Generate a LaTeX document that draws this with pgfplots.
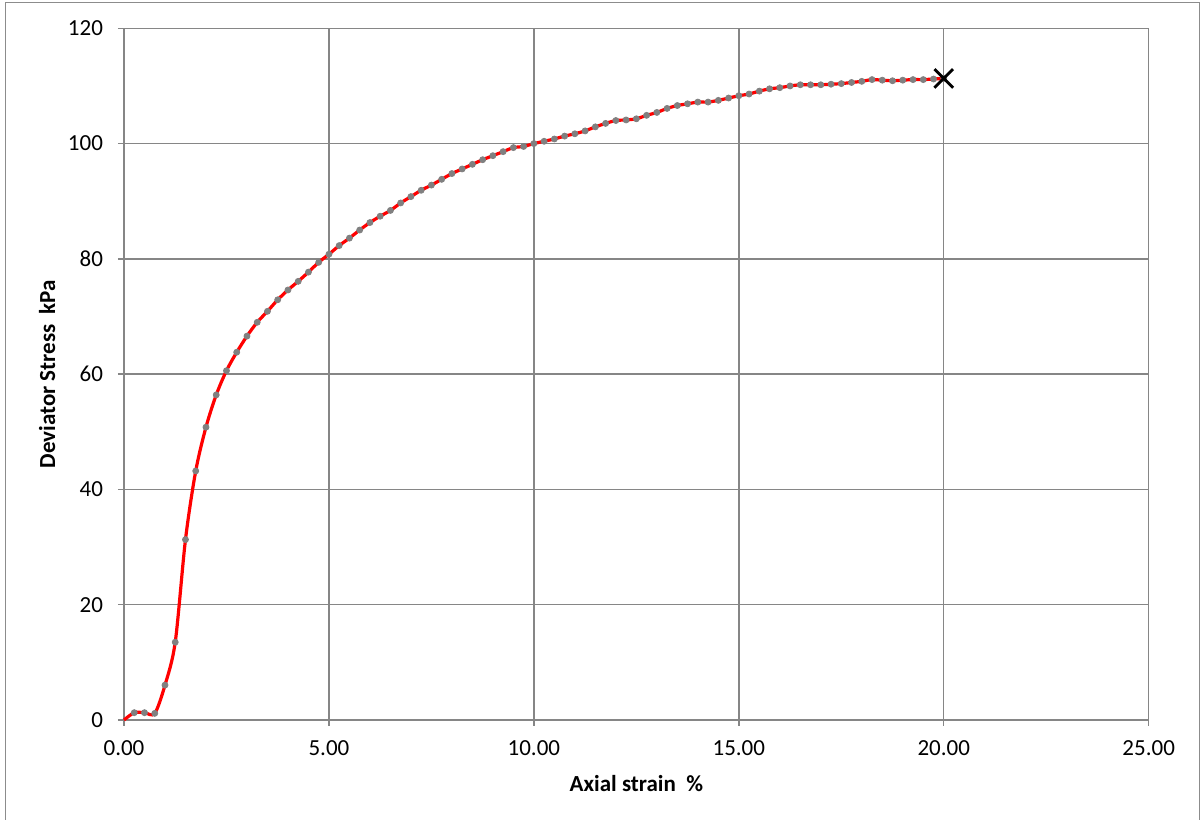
\documentclass[border=0pt]{standalone}
\usepackage{pgfplots}
\pgfplotsset{compat=1.18}
\usepackage{fontspec}
\setmainfont{Carlito}
\definecolor{gridgray}{HTML}{868686}
\definecolor{markgray}{HTML}{808080}
\definecolor{framegray}{HTML}{8C8C8C}
\begin{document}
\begin{tikzpicture}
\useasboundingbox (-62pt,-50pt) rectangle (538.5pt,360pt);
\draw[framegray, line width=0.8pt] (-59.25pt,-51pt) -- (-59.25pt,358.75pt) -- (537.65pt,358.75pt) -- (537.65pt,-51pt);
\begin{axis}[
  at={(0pt,0pt)}, anchor=south west,
  scale only axis, width=512.35pt, height=345.85pt,
  xmin=0, xmax=25, ymin=0, ymax=120,
  xtick={0,5,10,15,20,25}, ytick={0,20,40,60,80,100,120},
  xtick pos=bottom, ytick pos=left,
  tick align=outside, major tick length=3pt,
  every tick/.style={gridgray, line width=0.7pt},
  axis line style={gridgray, line width=0.7pt},
  grid=major, major grid style={gridgray, line width=0.7pt},
  /pgf/number format/assume math mode=true,
  tick label style={font=\fontsize{11.5}{13.5}\selectfont, black},
  xticklabel style={yshift=-4pt},
  yticklabel style={xshift=-4pt},
  xticklabel={\pgfmathprintnumber[fixed, fixed zerofill, precision=2]{\tick}},
  yticklabel={\pgfmathprintnumber[fixed, precision=0]{\tick}},
  scaled ticks=false,
  xlabel={\textbf{Axial strain\ \ \%}}, ylabel={\textbf{Deviator Stress\ \ kPa}},
  every axis x label/.style={at={(axis description cs:0.5,-0.0925)}, anchor=center, font=\fontsize{11.5}{13.5}\selectfont\bfseries},
  every axis y label/.style={at={(axis description cs:-0.0751,0.5)}, anchor=center, rotate=90, font=\fontsize{11.5}{13.5}\selectfont\bfseries},
  clip=false,
]
\pgfplotstableread{
x y
0 0
0.25 1.27
0.5 1.27
0.75 1.15
1.0 6.05
1.25 13.5
1.5 31.3
1.75 43.2
2.0 50.8
2.25 56.4
2.5 60.6
2.75 63.8
3.0 66.6
3.25 69.0
3.5 70.9
3.75 72.9
4.0 74.6
4.25 76.1
4.5 77.7
4.75 79.4
5.0 80.8
5.25 82.3
5.5 83.6
5.75 85.0
6.0 86.3
6.25 87.4
6.5 88.4
6.75 89.7
7.0 90.8
7.25 91.9
7.5 92.8
7.75 93.8
8.0 94.8
8.25 95.6
8.5 96.4
8.75 97.2
9.0 97.9
9.25 98.6
9.5 99.3
9.75 99.5
10.0 100.0
10.25 100.4
10.5 100.8
10.75 101.3
11.0 101.7
11.25 102.2
11.5 102.9
11.75 103.5
12.0 104.0
12.25 104.1
12.5 104.3
12.75 104.9
13.0 105.4
13.25 106.1
13.5 106.6
13.75 106.9
14.0 107.2
14.25 107.2
14.5 107.5
14.75 107.9
15.0 108.3
15.25 108.6
15.5 109.1
15.75 109.5
16.0 109.7
16.25 110.0
16.5 110.2
16.75 110.2
17.0 110.2
17.25 110.3
17.5 110.4
17.75 110.6
18.0 110.8
18.25 111.1
18.5 111.0
18.75 110.9
19.0 111.0
19.25 111.1
19.5 111.1
19.75 111.2
20.0 111.3
}\datatable
\addplot[red, line width=1.6pt, smooth, tension=0.5, no marks] table[x=x, y=y] {\datatable};
\addplot[only marks, mark=*, mark size=1.5pt, mark options={draw=markgray, fill=markgray}, skip coords between index={0}{1}] table[x=x, y=y] {\datatable};
\addplot[only marks, mark=x, mark size=6.6pt, mark options={black, line width=1.4pt}] coordinates {(20.0,111.3)};
\end{axis}
\end{tikzpicture}
\end{document}
